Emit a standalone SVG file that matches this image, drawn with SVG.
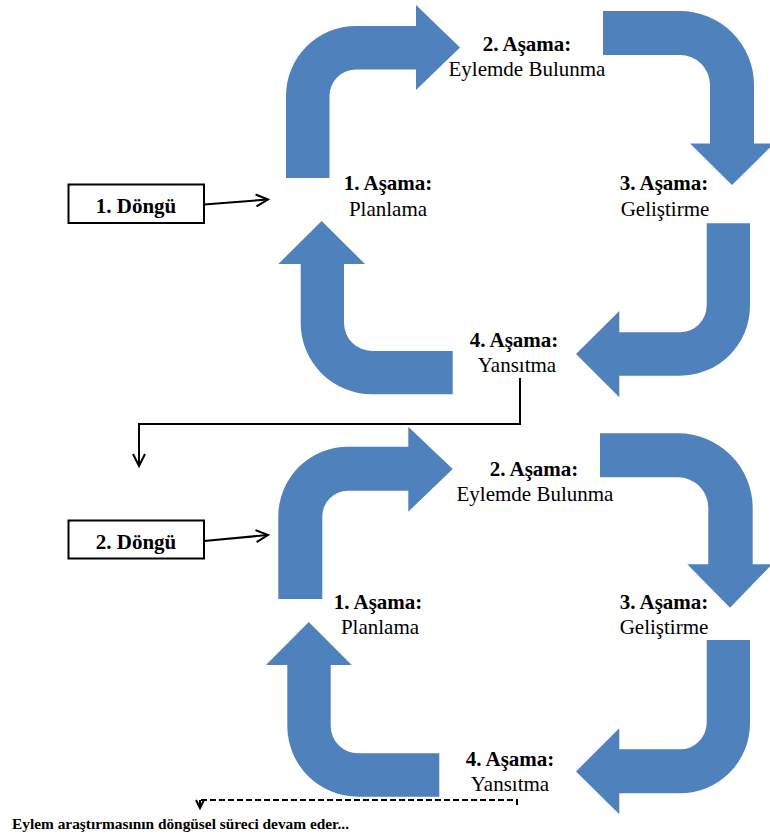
<svg xmlns="http://www.w3.org/2000/svg" width="770" height="837" viewBox="0 0 770 837">
<defs>
<style>
.arr{fill:#4F81BD;stroke:none}
.t{font-family:"Liberation Serif","Times New Roman",serif;font-size:21px;fill:#000;text-anchor:middle}
.b{font-weight:bold}
.box{fill:#fff;stroke:#000;stroke-width:2}
.ln{fill:none;stroke:#000;stroke-width:2}
.dash{fill:none;stroke:#000;stroke-width:2;stroke-dasharray:6 3}
</style>
<marker id="chev" markerWidth="16" markerHeight="14" refX="13" refY="7" orient="auto" markerUnits="userSpaceOnUse">
<path d="M1,1 L13,7 L1,13" fill="none" stroke="#000" stroke-width="2"/>
</marker>
<marker id="chevS" markerWidth="12" markerHeight="10" refX="9" refY="5" orient="auto" markerUnits="userSpaceOnUse">
<path d="M1,1 L9,5 L1,9" fill="none" stroke="#000" stroke-width="2"/>
</marker>
</defs>
<rect width="770" height="837" fill="#fff"/>

<!-- Cycle 1 arrows -->
<g id="c1-arrow1"><path class="arr" d="M286,178 L286,96 A70,70 0 0 1 356,26 L416,26 L416,5 L460,47.5 L416,90 L416,69.5 L356,69.5 A26.5,26.5 0 0 0 329.5,96 L329.5,178 Z"/></g>
<g id="c1-arrow2"><path class="arr" d="M603,11 L680,11 A74,74 0 0 1 754,85 L754,143.5 L774,143.5 L732,185 L690,143.5 L710,143.5 L710,85 A30,30 0 0 0 680,55 L603,55 Z"/></g>
<g id="c1-arrow3"><path class="arr" d="M706.7,223.3 L750,223.3 L750,305.6 A70,70 0 0 1 680,375.7 L619.3,375.7 L619.3,397.3 L576,354 L619.3,311 L619.3,332.3 L680,332.3 A26.7,26.7 0 0 0 706.7,305.6 Z"/></g>
<g id="c1-arrow4"><path class="arr" d="M452.7,351 L372,351 A28,28 0 0 1 344,323 L344,264 L365,264 L321.7,221 L278.3,264 L300.7,264 L300.7,323 A71.3,71.3 0 0 0 372,394.3 L452.7,394.3 Z"/></g>

<!-- Cycle 2 arrows -->
<g id="c2-arrow1"><path class="arr" d="M278.3,599 L278.3,516.4 A69.7,69.7 0 0 1 348,446.7 L408.3,446.7 L408.3,426.7 L452.7,469 L408.3,511.7 L408.3,490.7 L348,490.7 A25.7,25.7 0 0 0 322.3,516.4 L322.3,599 Z"/></g>
<g id="c2-arrow2"><path class="arr" d="M600,433.3 L678,433.3 A74.7,74.7 0 0 1 752.7,508 L752.7,564.3 L772,564.3 L730,607.7 L687.3,564.3 L708.3,564.3 L708.3,508 A30.5,30.5 0 0 0 678,477.3 L600,477.3 Z"/></g>
<g id="c2-arrow3"><path class="arr" d="M706.7,640 L750,640 L750,723.3 A70,70 0 0 1 680,793.3 L619.3,793.3 L619.3,814.3 L576,771.5 L619.3,728.3 L619.3,749.3 L680,749.3 A26.5,26.5 0 0 0 706.7,723.3 Z"/></g>
<g id="c2-arrow4"><path class="arr" d="M439.3,753.3 L358,753.3 A27.3,27.3 0 0 1 330.7,726 L330.7,665 L351.7,665 L308.8,622 L266,665 L287.3,665 L287.3,726 A70.7,70.7 0 0 0 358,796.7 L439.3,796.7 Z"/></g>

<!-- Cycle 1 labels -->
<g id="c1-stage1"><text class="t b" x="388" y="190">1. Aşama:</text><text class="t" x="388" y="216">Planlama</text></g>
<g id="c1-stage2"><text class="t b" x="527" y="51">2. Aşama:</text><text class="t" x="527" y="76">Eylemde Bulunma</text></g>
<g id="c1-stage3"><text class="t b" x="664" y="190">3. Aşama:</text><text class="t" x="665" y="216">Geliştirme</text></g>
<g id="c1-stage4"><text class="t b" x="514" y="347">4. Aşama:</text><text class="t" x="517" y="372">Yansıtma</text></g>

<!-- Cycle 2 labels -->
<g id="c2-stage1"><text class="t b" x="378" y="609">1. Aşama:</text><text class="t" x="380" y="634">Planlama</text></g>
<g id="c2-stage2"><text class="t b" x="534" y="476">2. Aşama:</text><text class="t" x="535" y="501">Eylemde Bulunma</text></g>
<g id="c2-stage3"><text class="t b" x="664" y="609">3. Aşama:</text><text class="t" x="664" y="634">Geliştirme</text></g>
<g id="c2-stage4"><text class="t b" x="510" y="766">4. Aşama:</text><text class="t" x="510" y="791">Yansıtma</text></g>

<!-- Cycle boxes -->
<g id="cycle1-box"><rect class="box" x="68.5" y="184.5" width="135.5" height="38.5"/><text class="t b" x="136" y="213">1. Döngü</text></g>
<g id="cycle2-box"><rect class="box" x="68.5" y="520.5" width="135.5" height="38"/><text class="t b" x="136" y="549">2. Döngü</text></g>

<!-- Footer text -->
<g id="footer"><text x="12" y="829" font-family="Liberation Serif, Times New Roman, serif" font-size="15.2" font-weight="bold" textLength="337" lengthAdjust="spacingAndGlyphs">Eylem araştırmasının döngüsel süreci devam eder...</text></g>

<!-- Connectors -->
<g id="connectors">
<path class="ln" d="M204,204.5 L268,199.5" marker-end="url(#chev)"/>
<path class="ln" d="M204,541 L268,535" marker-end="url(#chev)"/>
<path class="ln" d="M520,378 L520,424 L139,424 L139,466" marker-end="url(#chev)"/>
<path class="dash" d="M517,805 L517,800 L200,800"/>
<path class="ln" d="M200,800 L200,808" marker-end="url(#chevS)"/>
</g>
</svg>
